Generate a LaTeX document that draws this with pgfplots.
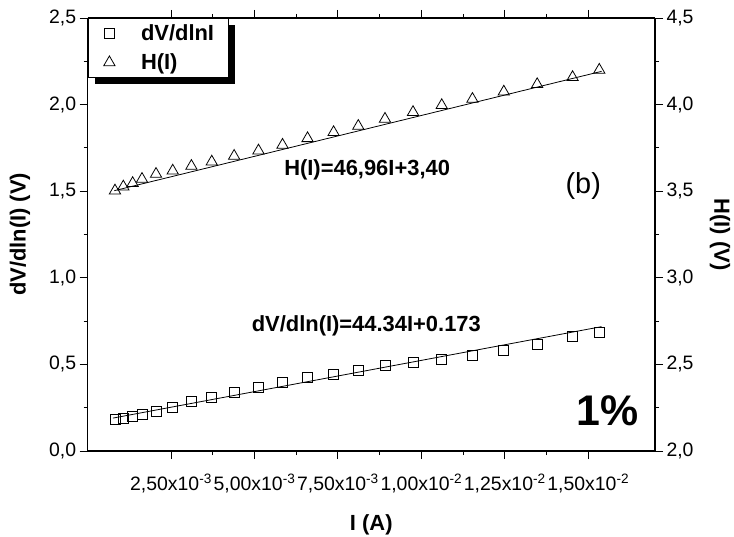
\documentclass[border=0pt]{standalone}
\usepackage{fontspec}
\setmainfont{Liberation Sans}
\usepackage{pgfplots}
\pgfplotsset{compat=1.18}
\usepackage{pgfplotstable}
\usetikzlibrary{shadows}

\pgfplotstableread{
I V
0.00082 0.183
0.00107 0.189
0.00135 0.202
0.00163 0.212
0.00205 0.227
0.00255 0.250
0.00311 0.284
0.00372 0.312
0.00439 0.339
0.00512 0.370
0.00584 0.395
0.00659 0.423
0.00737 0.445
0.00811 0.465
0.00891 0.497
0.00975 0.512
0.01061 0.531
0.01153 0.553
0.01247 0.580
0.01347 0.616
0.01453 0.660
0.01533 0.685
}\dVdata

\pgfplotstableread{
I H
0.00082 3.503
0.00107 3.526
0.00135 3.546
0.00163 3.570
0.00205 3.599
0.00255 3.618
0.00311 3.645
0.00372 3.670
0.00439 3.703
0.00512 3.734
0.00584 3.767
0.00659 3.805
0.00737 3.840
0.00811 3.876
0.00891 3.917
0.00975 3.956
0.01061 3.996
0.01153 4.032
0.01247 4.074
0.01347 4.117
0.01453 4.158
0.01533 4.200
}\Hdata

\pgfplotsset{
  common/.style={
    at={(0,0)}, anchor=south west,
    scale only axis, width=567.4bp, height=433bp,
    xmin=0, xmax=0.0170,
    tick align=outside,
    major tick length=8bp, minor tick length=4bp,
    every tick/.style={black, line width=0.9pt},
    axis line style={line width=1.1pt},
    tick label style={font=\fontsize{19.5}{23}\selectfont},
    /pgf/number format/assume math mode=true,
    label style={font=\bfseries\fontsize{22}{26}\selectfont},
  }
}

\begin{document}
\begin{tikzpicture}
\path[use as bounding box] (-87.6bp,-86bp) rectangle (646.4bp,451bp);
\begin{axis}[common,
  axis y line*=left,
  ymin=0, ymax=2.5,
  ytick={0,0.5,1,1.5,2,2.5},
  minor y tick num=1,
  xtick={0.0025,0.005,0.0075,0.01,0.0125,0.015},
  minor x tick num=1,
  scaled x ticks=false,
  xtick pos=both,
  xticklabels={{2,50x10\textsuperscript{-3}},{5,00x10\textsuperscript{-3}},{7,50x10\textsuperscript{-3}},{1,00x10\textsuperscript{-2}},{1,25x10\textsuperscript{-2}},{1,50x10\textsuperscript{-2}}},
  xticklabel style={yshift=-11bp},
  yticklabel style={/pgf/number format/.cd, fixed, fixed zerofill, precision=1, use comma},
  xlabel={I (A)},
  ylabel={dV/dln(I) (V)},
  xlabel style={at={(axis description cs:0.5,-0.170)}, anchor=center},
  ylabel style={at={(axis description cs:-0.119,0.5)}, anchor=center, rotate=0},
]
\addplot[only marks, mark=square, mark size=5bp, mark options={line width=0.8pt, fill=white}] table[x=I, y=V] {\dVdata};
\addplot[black, line width=0.8pt] coordinates {(0.00076,0.190) (0.0154,0.718)};
\node[font=\bfseries\fontsize{22}{26}\selectfont] at (axis cs:0.00835,0.722) {dV/dln(I)=44.34I+0.173};
\node[font=\bfseries\fontsize{22}{26}\selectfont] at (axis cs:0.008375,1.622) {H(I)=46,96I+3,40};
\node[font=\fontsize{29}{32}\selectfont] at (axis cs:0.01485,1.53) {(b)};
\node[font=\bfseries\fontsize{43}{46}\selectfont] at (axis cs:0.01557,0.235) {1\%};
\end{axis}
\begin{axis}[common,
  axis y line*=right,
  axis x line=none,
  ymin=2, ymax=4.5,
  ytick={2,2.5,3,3.5,4,4.5},
  minor y tick num=1,
  yticklabel style={/pgf/number format/.cd, fixed, fixed zerofill, precision=1, use comma},
  ylabel={H(I) (V)},
  ylabel style={at={(axis description cs:1.1146,0.5)}, anchor=center, rotate=180},
  legend image code/.code={\path (-9bp,0bp) (0bp,0bp); \draw plot coordinates {(0bp,0bp)};},
  legend style={at={(0,1)}, anchor=north west, draw=black, line width=0.8pt, fill=white,
    font=\bfseries\fontsize{22}{26}\selectfont,
    inner xsep=12bp, inner ysep=4bp, row sep=8bp,
    drop shadow={fill=black, opacity=1, shadow xshift=7bp, shadow yshift=-7bp},
    /tikz/every odd column/.append style={column sep=24bp}},
  legend cell align=left,
]
\addlegendimage{only marks, mark=square, mark size=5bp, mark options={line width=0.8pt}}
\addlegendentry{dV/dlnI}
\addplot[only marks, mark=triangle, mark size=6.5bp, mark options={line width=0.8pt, fill=white}] table[x=I, y=H] {\Hdata};
\addlegendentry{H(I)}
\addplot[black, line width=0.8pt, forget plot] coordinates {(0.0008,3.503) (0.0154,4.192)};
\end{axis}
\end{tikzpicture}
\end{document}
